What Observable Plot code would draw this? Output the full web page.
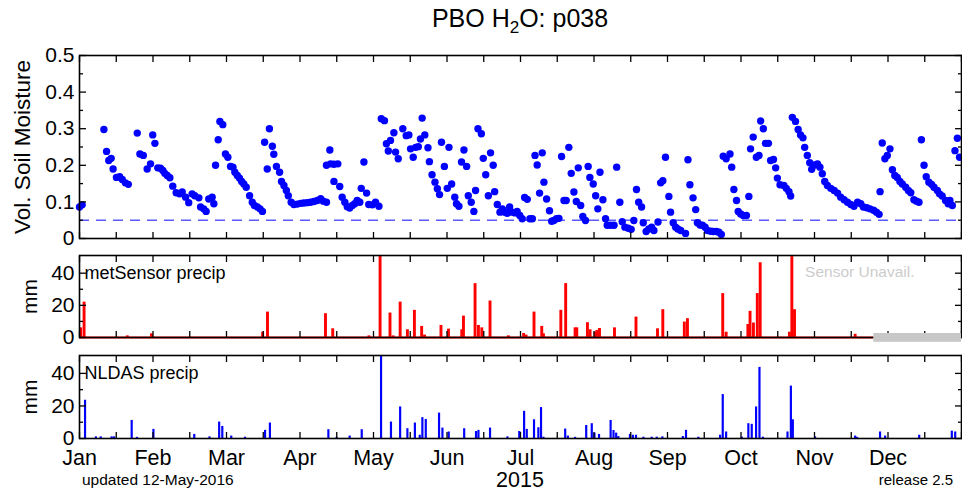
<!DOCTYPE html>
<html><head><meta charset="utf-8">
<script src="https://cdn.jsdelivr.net/npm/d3@7"></script>
<script src="https://cdn.jsdelivr.net/npm/@observablehq/plot@0.6"></script>
<style>
body{margin:0;background:#fff;font-family:"Liberation Sans",Arial,sans-serif;}
#wrap{position:relative;width:962px;height:492px;overflow:hidden;background:#fff;}
.abs{position:absolute;white-space:nowrap;color:#000;}
#wrap svg{position:absolute;left:0;}
</style></head><body>
<div id="wrap">
<div class="abs" style="left:79px;width:882px;top:6px;text-align:center;font-size:25px;line-height:25px;">PBO H<span style="font-size:17px;position:relative;top:6px;">2</span>O: p038</div>
<div class="abs" style="left:82px;top:472px;font-size:15.5px;line-height:16px;">updated 12-May-2016</div>
<div class="abs" style="left:79px;width:882px;top:469px;text-align:center;font-size:21.5px;line-height:22px;">2015</div>
<div class="abs" style="right:9px;top:472px;font-size:15px;line-height:16px;">release 2.5</div>
</div>
<script>
// ---- data (day of year, 0 = Jan 1 2015) ----
const months = ["Jan","Feb","Mar","Apr","May","Jun","Jul","Aug","Sep","Oct","Nov","Dec"];
const smTicks = [0, 0.1, 0.2, 0.3, 0.4, 0.5];
const smTickLabels = ["0", "0.1", "0.2", "0.3", "0.4", "0.5"];
const smMinor = [0.05, 0.15, 0.25, 0.35, 0.45];
const mmTicks = [0, 20, 40];
const mmMinor = [10, 30];
const dryLine = 0.05;
const sensorUnavailFrom = 328.7;

const smDay = [0,1.1,10.1,11.2,12.1,13.1,13.9,15.3,16.6,17.7,19,20.2,23.9,25,26.4,28,29.4,30.3,31.2,32.4,33.5,34.5,35.3,36.3,37.4,38.6,40,41.4,42.5,43.9,45.2,46.6,47.7,49.4,50.1,51.4,52.4,53.5,54.9,55.6,56.3,57.4,58.1,59.3,60.4,61.4,62.5,63.5,64.3,65.3,66.2,67.1,68,69,70.4,71.5,72.4,73.6,74.7,75.7,76.6,77.7,78.6,79.8,80.4,81.5,82.8,83.6,84.6,85.6,86.4,87.6,88.7,90.1,91.5,92.8,94.2,95.6,97,98.4,99.8,100.9,102.2,102.2,103.6,103.9,105.3,105.3,106.9,107.7,108.7,109.8,110.8,111.8,112.9,113.9,114.9,116,116.6,117.7,118.8,119.7,121.2,122.5,123.9,124.9,126.2,127,127.8,128.7,130.1,130.8,131.9,133.8,135.2,136.3,137,138.1,139.1,140.2,141.1,141.8,142.9,144.2,144.8,145.9,147.1,148.1,149,149.8,151,152.2,152.9,154,155.3,156,157,158.1,159.1,160.2,160.9,162.1,163.2,163.9,164.9,166.3,167.1,168.1,169.2,170.1,171.2,171.8,172.9,174,175,176,177,178,179.1,180.2,181.1,182.2,183.2,184.2,185.3,186.4,187.4,188.5,189.4,190.4,191.5,192.2,193.3,194.5,195.4,196.3,197.4,198.4,199.5,200.5,201.4,202.5,203.5,204.6,205.6,206.4,207.4,208.3,209.4,210.5,211.2,212.6,213.6,214.5,215.4,216.6,217.7,218.4,219.8,221.2,222.3,223.6,224.6,225.7,227.1,228.3,229.4,230.5,231.4,232.6,233.3,234.5,235.6,236.8,237.7,239.4,240.5,241.4,242.5,243.9,244.6,245.7,246.7,247.6,248.8,250.8,251.8,252.6,253.9,255,255.7,256.8,257.8,258.9,259.9,261.2,262.3,263.6,264.6,265.6,266.4,267.6,269.2,269.9,270.8,271.9,272.6,273.6,274.7,276,277,277.7,278.8,280.1,281.2,281.9,283,283.9,285.1,286,287.2,288.1,288.8,289.9,291.5,292.5,293.6,294.3,295,296.3,297.4,298.4,299.4,300.1,301.2,302.2,303,304.3,305.4,306.4,307.4,308.4,309.5,310.9,312.3,313.7,315,316.4,317.8,319.2,320.5,322,323.3,324.4,325.8,327.1,328.6,329.8,330.9,331.3,332.2,333.3,334.3,335.4,336.4,337.4,338.4,339.5,340.5,341.9,343,344,345.3,346.4,347.4,348.4,349.5,350.4,351.5,352.6,353.6,355,355.9,357,358.4,359.5,360.2,361.2,362.3,363.3,364.2];
const smValue = [0.086,0.092,0.298,0.238,0.213,0.219,0.19,0.167,0.169,0.161,0.152,0.148,0.288,0.231,0.227,0.19,0.204,0.283,0.26,0.193,0.192,0.186,0.178,0.172,0.166,0.143,0.125,0.122,0.127,0.113,0.098,0.122,0.117,0.111,0.086,0.081,0.074,0.108,0.113,0.095,0.2,0.27,0.32,0.311,0.231,0.222,0.197,0.195,0.181,0.172,0.165,0.156,0.149,0.14,0.117,0.099,0.09,0.086,0.081,0.074,0.263,0.19,0.3,0.252,0.23,0.197,0.181,0.156,0.145,0.131,0.117,0.099,0.093,0.094,0.096,0.097,0.098,0.099,0.101,0.104,0.109,0.102,0.099,0.2,0.242,0.204,0.203,0.156,0.204,0.142,0.113,0.099,0.087,0.083,0.09,0.095,0.104,0.099,0.137,0.209,0.124,0.093,0.092,0.099,0.088,0.327,0.322,0.259,0.239,0.268,0.289,0.236,0.218,0.3,0.281,0.283,0.245,0.222,0.249,0.251,0.272,0.329,0.283,0.248,0.21,0.174,0.154,0.136,0.12,0.263,0.197,0.137,0.249,0.149,0.113,0.095,0.088,0.209,0.242,0.197,0.117,0.099,0.074,0.131,0.3,0.286,0.219,0.174,0.117,0.234,0.2,0.128,0.093,0.072,0.081,0.072,0.069,0.086,0.072,0.07,0.074,0.063,0.054,0.112,0.107,0.054,0.054,0.227,0.201,0.124,0.234,0.154,0.108,0.076,0.047,0.049,0.054,0.055,0.224,0.104,0.104,0.249,0.178,0.127,0.101,0.193,0.09,0.06,0.049,0.197,0.167,0.149,0.117,0.081,0.181,0.106,0.054,0.036,0.036,0.036,0.195,0.099,0.046,0.031,0.028,0.025,0.049,0.134,0.099,0.086,0.043,0.019,0.026,0.031,0.022,0.045,0.152,0.158,0.222,0.115,0.072,0.043,0.031,0.026,0.022,0.014,0.215,0.147,0.111,0.079,0.043,0.037,0.036,0.031,0.022,0.02,0.019,0.019,0.017,0.011,0.225,0.218,0.231,0.195,0.134,0.104,0.074,0.067,0.063,0.063,0.115,0.245,0.277,0.222,0.227,0.321,0.3,0.26,0.26,0.213,0.216,0.193,0.165,0.147,0.145,0.137,0.128,0.116,0.331,0.32,0.298,0.283,0.275,0.249,0.227,0.207,0.189,0.201,0.204,0.195,0.177,0.156,0.145,0.137,0.131,0.124,0.113,0.106,0.099,0.093,0.088,0.099,0.095,0.086,0.084,0.081,0.077,0.072,0.066,0.128,0.261,0.218,0.227,0.245,0.188,0.172,0.167,0.156,0.149,0.14,0.131,0.125,0.106,0.102,0.099,0.27,0.2,0.169,0.154,0.148,0.14,0.131,0.122,0.116,0.104,0.095,0.104,0.09,0.24,0.274,0.222];

const metDay = [0.7,2.1,20,30,76,78,102,105,120,124.6,128.7,130,132.9,135.9,138.8,141.8,143,149.8,152.9,158.4,159.1,163.9,165.3,166.7,170.1,177.7,184,185,188.3,191.5,192.2,199.4,201.4,205.3,206,210.4,211.5,213.6,214.3,215.4,221.6,230.5,239.4,241.6,250.5,251.8,266.4,267.8,276.8,277.7,279.1,280.7,281.9,294,295,296.1,321.2];
const metValue = [6,22,1,2.3,3.3,15.8,14.8,5.4,1,60,15.2,1,22,4.8,16.9,6.9,1.5,7.5,5.2,4.8,13.3,33.5,7.5,6,22.7,1,2.5,1.5,15.8,6.9,2.3,16.9,33.5,6,6,9.2,4.8,3.3,4.4,5.6,6,12.7,5.4,17.3,9.6,11.7,27.3,3.3,8.1,16.3,9,27.3,46.5,3.3,60,17.3,2];

const nlDay = [2.5,7,9,13.5,14.5,21.8,24,30.8,47.7,54,58,59.3,63,68.7,77,79,103.2,106.6,112,117,125,129.1,132.9,135.9,139,141,142.1,143.5,149,150.4,153,159.4,164.3,165.3,170.1,177.3,182.2,184.2,185.3,188.3,190.1,191.2,192.2,201.2,202.3,205.3,209.9,212.2,213.3,215.2,220,221.2,222.3,223.2,228,229.2,230.5,233.6,237,239.1,241.4,249.9,251.2,256.3,265.3,266.4,267.8,274.3,277,278.4,280.2,281.6,283,293.2,294.6,295.4,304.6,321.2,322,331.5,333.6,347.7,361.2,362.6];
const nlValue = [23.5,1,1,1,1,11.1,0.7,5.6,2.5,1,10.1,7.4,1.5,0.8,5,9.5,5.4,0.7,1.5,5.4,60,10.1,19.4,6,9.5,2,12.8,11.7,15.6,6.4,4,6,4.3,5,6.4,1,4.3,16.7,5.6,11.5,6.6,19,0.8,5.8,1.5,0.7,8,9.1,3.3,2.5,11.1,4.9,3.3,1.2,2.5,2,2,0.8,0.8,0.8,1,1.2,5,0.8,2,27,4,0.8,9.1,8.7,19.4,43.7,0.8,4,32.2,11.5,1,1.5,0.7,4,1.5,2,4.5,4];

// ---- build tables ----
const sm = smDay.map((d, i) => ({day: d, value: smValue[i]}));
const met = metDay.map((d, i) => ({day: d, value: metValue[i]}));
const nl = nlDay.map((d, i) => ({day: d, value: nlValue[i]}));

const yearDays = 365;
const xTicks = d3.range(25).map(k => k * yearDays / 24);
const monthTicks = xTicks.filter((d, i) => i % 2 === 0 && i < 24);

const FONT = "'Liberation Sans', Arial, sans-serif";
const baseStyle = {fontFamily: FONT, fontSize: "16px", background: "transparent", overflow: "visible", color: "#000"};

function frameMarks(yMajor, yMinor) {
  const hide = {tickFormat: () => "", label: null, strokeWidth: 1.3};
  return [
    Plot.frame({stroke: "#000", strokeWidth: 1.6}),
    Plot.axisX(xTicks, {anchor: "top", tickSize: 6, dy: 6, ...hide}),
    Plot.axisX(xTicks, {anchor: "bottom", tickSize: 6, dy: -6, ...hide}),
    Plot.axisY(yMajor, {anchor: "left", tickSize: 7, dx: 7, ...hide}),
    Plot.axisY(yMinor, {anchor: "left", tickSize: 4, dx: 4, ...hide}),
    Plot.axisY(yMajor, {anchor: "right", tickSize: 7, dx: -7, ...hide}),
    Plot.axisY(yMinor, {anchor: "right", tickSize: 4, dx: -4, ...hide})
  ];
}

function sideLabel(text, dx, size) {
  return Plot.text([text], {text: d => d, frameAnchor: "left", textAnchor: "middle", lineAnchor: "middle", dx, rotate: -90, fontSize: size});
}
function cornerLabel(text, anchor, dx, dy, size, fill) {
  return Plot.text([text], {text: d => d, frameAnchor: anchor, textAnchor: anchor === "top-left" ? "start" : "end",
    lineAnchor: "middle", dx, dy, fontSize: size, fill});
}

const wrap = document.getElementById("wrap");
function place(svg, top) { svg.style.top = top + "px"; wrap.appendChild(svg); }

// ---- panel 1: soil moisture ----
const p1 = Plot.plot({
  width: 962, height: 200, marginTop: 10, marginBottom: 7, marginLeft: 79, marginRight: 1,
  style: baseStyle,
  x: {domain: [0, yearDays]},
  y: {domain: [0, 0.5]},
  marks: [
    Plot.ruleY([dryLine], {stroke: "#5a5aff", strokeWidth: 1.6, strokeDasharray: "10,7"}),
    Plot.dot(sm, {x: "day", y: "value", r: 3.7, fill: "#0000ff"}),
    ...frameMarks(smTicks, smMinor),
    Plot.axisY(smTicks, {anchor: "left", tickSize: 0, tickPadding: 5, label: null, fontSize: 21,
      tickFormat: d => smTickLabels[smTicks.indexOf(d)]}),
    sideLabel("Vol. Soil Moisture", -57, 22.5)
  ]
});
place(p1, 45);

// ---- panel 2: metSensor precip ----
const p2 = Plot.plot({
  width: 962, height: 94, marginTop: 5, marginBottom: 7, marginLeft: 79, marginRight: 1,
  style: baseStyle,
  x: {domain: [0, yearDays]},
  y: {domain: [0, 51]},
  marks: [
    Plot.ruleY([0], {x1: 0, x2: sensorUnavailFrom, stroke: "#ff0000", strokeWidth: 2}),
    Plot.rectY(met, {x1: d => d.day - 0.6, x2: d => d.day + 0.6, y: "value", fill: "#ff0000", clip: true}),
    ...frameMarks(mmTicks, mmMinor),
    Plot.rect([sensorUnavailFrom], {x1: d => d, x2: yearDays, y1: -3, y2: 2.5, fill: "#c8c8c8"}),
    Plot.axisY(mmTicks, {anchor: "left", tickSize: 0, tickPadding: 5, label: null, fontSize: 21}),
    sideLabel("mm", -49, 21),
    cornerLabel("metSensor precip", "top-left", 5, 17.5, 18, "#000"),
    cornerLabel("Sensor Unavail.", "top-right", -47, 16.5, 15.5, "#cccccc")
  ]
});
place(p2, 250);

// ---- panel 3: NLDAS precip ----
const p3 = Plot.plot({
  width: 962, height: 140, marginTop: 5, marginBottom: 52, marginLeft: 79, marginRight: 1,
  style: baseStyle,
  x: {domain: [0, yearDays]},
  y: {domain: [0, 51]},
  marks: [
    Plot.rectY(nl, {x1: d => d.day - 0.45, x2: d => d.day + 0.45, y: "value", fill: "#0000ff", clip: true}),
    ...frameMarks(mmTicks, mmMinor),
    Plot.axisY(mmTicks, {anchor: "left", tickSize: 0, tickPadding: 5, label: null, fontSize: 21}),
    Plot.axisX(monthTicks, {anchor: "bottom", tickSize: 0, tickPadding: 11, label: null, fontSize: 21.5,
      tickFormat: d => months[Math.round(d / (yearDays / 12))]}),
    sideLabel("mm", -49, 21),
    cornerLabel("NLDAS precip", "top-left", 5, 17.5, 18, "#000")
  ]
});
place(p3, 350);
</script>
</body></html>
